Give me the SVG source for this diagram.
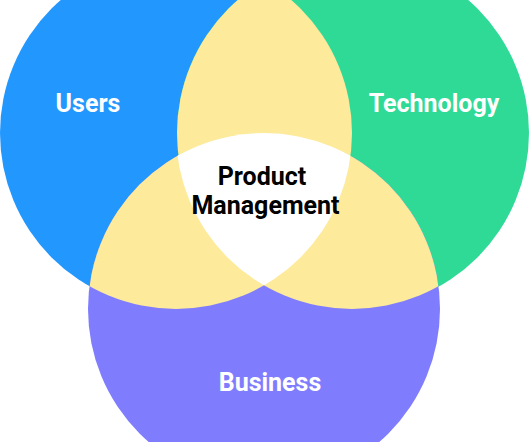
<svg xmlns="http://www.w3.org/2000/svg" width="530" height="442" viewBox="0 0 530 442">
<style>
.lbl{font-family:Roboto,"Liberation Sans",sans-serif;font-weight:bold;font-size:25px;text-anchor:middle;fill:#fff}
.dark{fill:#000}
.ov{fill:#FDEA9A}
</style>
<defs>
<clipPath id="cB"><circle cx="176" cy="133" r="176"/></clipPath>
<clipPath id="cG"><circle cx="352" cy="133" r="176"/></clipPath>
</defs>
<rect width="530" height="442" fill="#fff"/>
<g id="users">
<circle cx="176" cy="133" r="176" fill="#2297FE"/>
<text class="lbl" x="88" y="112">Users</text>
</g>
<g id="technology">
<circle cx="353" cy="133" r="176" fill="#2FDA97"/>
<text class="lbl" x="434" y="112">Technology</text>
</g>
<g id="business">
<circle cx="264" cy="309" r="176" fill="#7F7DFD"/>
<text class="lbl" x="270" y="391">Business</text>
</g>
<g id="overlaps">
<circle class="ov" cx="353" cy="133" r="176" clip-path="url(#cB)"/>
<circle class="ov" cx="264" cy="309" r="176" clip-path="url(#cB)"/>
<circle class="ov" cx="264" cy="309" r="176" clip-path="url(#cG)"/>
<g clip-path="url(#cB)"><circle cx="264" cy="309" r="176" fill="#fff" clip-path="url(#cG)"/></g>
</g>
<g id="product-management">
<text class="lbl dark" x="262" y="185">Product</text>
<text class="lbl dark" x="265.5" y="214">Management</text>
</g>
</svg>
